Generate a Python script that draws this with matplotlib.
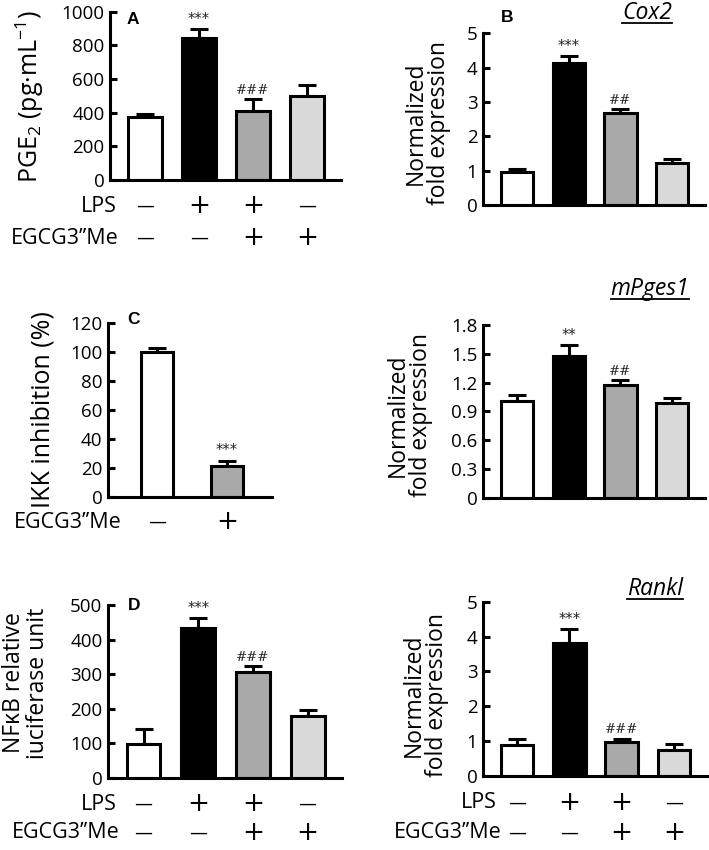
import matplotlib
matplotlib.use('Agg')
import matplotlib.pyplot as plt
from matplotlib import transforms
from matplotlib.lines import Line2D

plt.rcParams['font.family'] = ['Open Sans', 'DejaVu Sans']
plt.rcParams['mathtext.fontset'] = 'custom'
plt.rcParams['mathtext.rm'] = 'Open Sans'
plt.rcParams['mathtext.it'] = 'Open Sans:italic'

# ---------------- data ----------------
pge2_vals = [375, 845, 412, 500]
pge2_err = [20, 52, 68, 66]
pge2_marks = ['', '***', '###', '']

cox2_vals = [0.96, 4.13, 2.67, 1.21]
cox2_err = [0.10, 0.22, 0.13, 0.14]
cox2_marks = ['', '***', '##', '']

ikk_vals = [100, 21.5]
ikk_err = [2.8, 3.5]
ikk_marks = ['', '***']

mpges1_vals = [1.01, 1.48, 1.17, 0.99]
mpges1_err = [0.06, 0.11, 0.06, 0.05]
mpges1_marks = ['', '**', '##', '']

nfkb_vals = [97, 434, 307, 178]
nfkb_err = [45, 28, 15, 17]
nfkb_marks = ['', '***', '###', '']

rankl_vals = [0.88, 3.82, 0.96, 0.74]
rankl_err = [0.17, 0.41, 0.11, 0.17]
rankl_marks = ['', '***', '###', '']

colors4 = ['white', 'black', '#a9a9a9', '#d9d9d9']
colors_c = ['white', '#a9a9a9']
lps_signs = ['—', '+', '+', '—']
egcg_signs = ['—', '—', '+', '+']
egcg_signs_c = ['—', '+']

W, H = 709, 850
fig = plt.figure(figsize=(W / 100, H / 100), dpi=100)


def make_ax(left, right, top, bottom):
    return fig.add_axes([left / W, 1 - bottom / H, (right - left) / W, (bottom - top) / H])


def draw_panel(ax, vals, errs, colors, marks, ymax, ticks, ticklabels, xlim, width):
    x = list(range(len(vals)))
    ax.errorbar(x, vals, yerr=[[0] * len(vals), errs], fmt='none', ecolor='black',
                elinewidth=2.2, capsize=6.5, capthick=2.2, zorder=1)
    ax.bar(x, vals, width=width, color=colors, edgecolor='black', linewidth=2.2, zorder=2)
    for xi, v, e, m in zip(x, vals, errs, marks):
        if m:
            if '*' in m:
                fam, fs = ['DejaVu Sans'], 10.5
            else:
                fam, fs = ['DejaVu Serif'], 9.5
            ax.annotate(m, (xi, v + e), xytext=(0, 1.5), textcoords='offset points',
                        ha='center', va='bottom', fontsize=fs, family=fam, color='#222222')
    ax.set_xlim(*xlim)
    ax.set_ylim(0, ymax)
    ax.set_yticks(ticks)
    ax.set_yticklabels(ticklabels)
    ax.set_xticks([])
    for s in ['top', 'right']:
        ax.spines[s].set_visible(False)
    for s in ['left', 'bottom']:
        ax.spines[s].set_linewidth(2.2)
    ax.tick_params(axis='y', direction='in', length=5, width=2.2, labelsize=13.5, pad=4)
    ax.patch.set_alpha(0)


def sign_row(ax, signs, ypx, label, label_right):
    trans = transforms.blended_transform_factory(ax.transData, fig.transFigure)
    for i, s in enumerate(signs):
        fs = 19 if s == '+' else 13
        ax.text(i, 1 - ypx / H, s, transform=trans, ha='center', va='center', fontsize=fs,
                family=['DejaVu Sans'])
    fig.text(label_right / W, 1 - ypx / H, label, ha='right', va='center', fontsize=15.5)


def ylabel(cx, cy, text, fs=16.5):
    fig.text(cx / W, 1 - cy / H, text, rotation=90, ha='center', va='center',
             fontsize=fs, multialignment='center', linespacing=0.95)


def letter(cx, cy, s):
    fig.text(cx / W, 1 - cy / H, s, ha='center', va='center', fontsize=12.5,
             fontweight='bold', family=['Liberation Sans', 'DejaVu Sans'])


xl4 = (-0.65, 3.63)
w4 = 0.62

# Panel A
axA = make_ax(110, 341, 11.7, 180)
draw_panel(axA, pge2_vals, pge2_err, colors4, pge2_marks, 1000,
           [0, 200, 400, 600, 800, 1000], ['0', '200', '400', '600', '800', '1000'], xl4, w4)
sign_row(axA, lps_signs, 206, 'LPS', 117)
sign_row(axA, egcg_signs, 238, 'EGCG3’’Me', 119)
ylabel(30, 97, r'PGE$_2$ (pg·mL$^{-1}$)', 18)
letter(133, 19, 'A')

# Panel B
axB = make_ax(483, 705, 33.3, 205)
draw_panel(axB, cox2_vals, cox2_err, colors4, cox2_marks, 5,
           [0, 1, 2, 3, 4, 5], ['0', '1', '2', '3', '4', '5'], xl4, w4)
ylabel(427, 123, 'Normalized\nfold expression')
letter(507, 18, 'B')

# Panel C
axC = make_ax(108, 272, 323.3, 496.7)
draw_panel(axC, ikk_vals, ikk_err, colors_c, ikk_marks, 120,
           [0, 20, 40, 60, 80, 100, 120], ['0', '20', '40', '60', '80', '100', '120'],
           (-0.71, 1.65), 0.46)
sign_row(axC, egcg_signs_c, 522, 'EGCG3’’Me', 122)
ylabel(43, 410, 'IKK inhibition (%)', 18)
letter(134, 320, 'C')

# Panel mPges1
axM = make_ax(483, 705, 325, 497.7)
draw_panel(axM, mpges1_vals, mpges1_err, colors4, mpges1_marks, 1.8,
           [0, 0.3, 0.6, 0.9, 1.2, 1.5, 1.8], ['0', '0.3', '0.6', '0.9', '1.2', '1.5', '1.8'],
           xl4, w4)
ylabel(409, 415, 'Normalized\nfold expression')

# Panel D
axD = make_ax(108, 342, 605, 777.7)
draw_panel(axD, nfkb_vals, nfkb_err, colors4, nfkb_marks, 500,
           [0, 100, 200, 300, 400, 500], ['0', '100', '200', '300', '400', '500'], xl4, w4)
sign_row(axD, lps_signs, 804, 'LPS', 117)
sign_row(axD, egcg_signs, 833, 'EGCG3’’Me', 120)
ylabel(26, 683, 'NFκB relative\niuciferase unit')
letter(134, 606, 'D')

# Panel Rankl
axR = make_ax(483, 707, 602, 775.7)
draw_panel(axR, rankl_vals, rankl_err, colors4, rankl_marks, 5,
           [0, 1, 2, 3, 4, 5], ['0', '1', '2', '3', '4', '5'], xl4, w4)
sign_row(axR, lps_signs, 803, 'LPS', 497)
sign_row(axR, egcg_signs, 833, 'EGCG3’’Me', 502)
ylabel(425, 695, 'Normalized\nfold expression')

# Gene titles (italic, underlined)
titles = []
for cx, cy, s in [(647, 13, 'Cox2'), (650, 289, 'mPges1'), (655, 589, 'Rankl')]:
    t = fig.text(cx / W, 1 - cy / H, s, ha='center', va='center', fontsize=16.5, style='italic')
    titles.append(t)

fig.canvas.draw()
r = fig.canvas.get_renderer()
for t in titles:
    bb = t.get_window_extent(r)
    y = (bb.y0 + 2) / H
    fig.add_artist(Line2D([bb.x0 / W, bb.x1 / W], [y, y], transform=fig.transFigure,
                          color='black', linewidth=1.3))

fig.savefig('out.png', dpi=100)
